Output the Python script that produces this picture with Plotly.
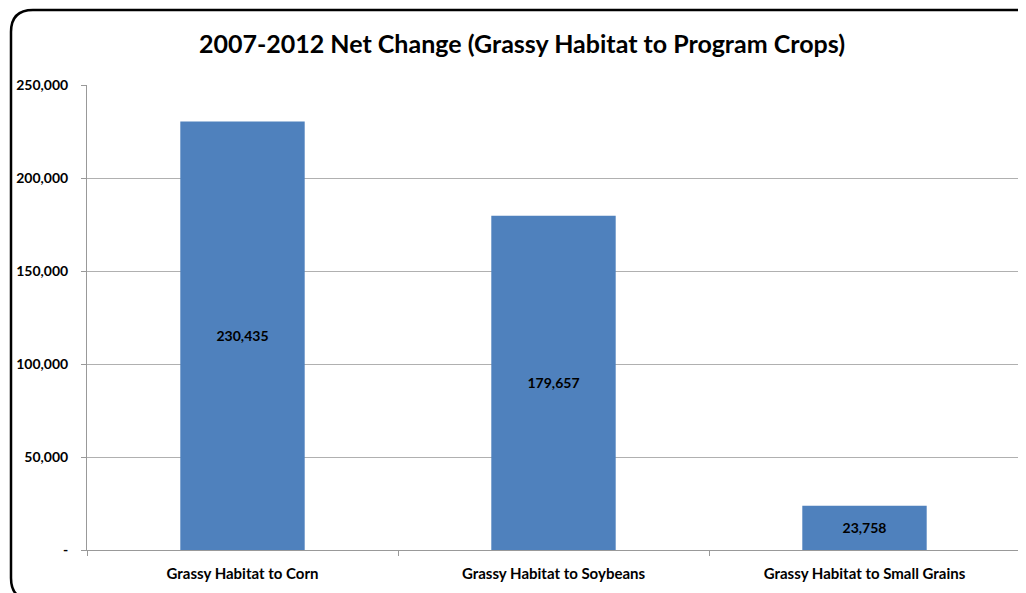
import plotly.graph_objects as go

categories = ["Grassy Habitat to Corn", "Grassy Habitat to Soybeans", "Grassy Habitat to Small Grains"]
values = [230435, 179657, 23758]
tick_vals = [0, 50000, 100000, 150000, 200000, 250000]
tick_text = ["-", "50,000", "100,000", "150,000", "200,000", "250,000"]
title_text = "2007-2012 Net Change (Grassy Habitat to Program Crops)"

FONT = "Lato, sans-serif"

fig = go.Figure(go.Bar(
    x=categories, y=values, width=0.4,
    marker=dict(color="#4F81BD", line=dict(width=0)),
    text=[f"{v:,}" for v in values], textposition="inside",
    insidetextanchor="middle",
    textfont=dict(family=FONT, size=14, color="black", weight="bold"),
))

OFF = 8  # page body margin
W, H = 1026, 593
# target positions in the screenshot
PL, PR, PT, PB = 87, 1020, 85, 550
L, T = PL - OFF, PT - OFF
R = W - (PR - OFF)
B = H - (PB - OFF)
pw, ph = W - L - R, H - T - B

def px(x):
    return (x - OFF - L) / pw

def py(y):
    return 1 - (y - OFF - T) / ph

x0, x1, y0, y1, r = 11, 1045, 10, 600, 22
path = (f"M {px(x0)},{py(y0 + r)} Q {px(x0)},{py(y0)} {px(x0 + r)},{py(y0)} "
        f"L {px(x1)},{py(y0)} "
        f"M {px(x0)},{py(y0 + r)} L {px(x0)},{py(y1 - r)} "
        f"Q {px(x0)},{py(y1)} {px(x0 + r)},{py(y1)} L {px(x1)},{py(y1)}")

fig.update_layout(
    width=W, height=H,
    margin=dict(l=L, r=R, t=T, b=B, autoexpand=False),
    paper_bgcolor="white", plot_bgcolor="white",
    showlegend=False,
    title=dict(text=title_text, x=(522 - OFF) / W, xref="container",
               y=1 - (44 - OFF) / H, yref="container",
               xanchor="center", yanchor="middle",
               font=dict(family=FONT, size=25, color="black", weight="bold")),
    xaxis=dict(tickson="boundaries", ticks="outside", ticklen=5, tickcolor="#999999",
               showline=True, linecolor="#999999", linewidth=1, showgrid=False,
               ticklabelstandoff=10, automargin=False,
               tickfont=dict(family=FONT, size=15, color="black", weight="bold"),
               range=[-0.5, 2.5]),
    yaxis=dict(range=[0, 250000], tickvals=tick_vals, ticktext=tick_text,
               ticks="outside", ticklen=5, tickcolor="#999999",
               showline=True, linecolor="#999999", linewidth=1,
               ticklabelstandoff=10, automargin=False,
               showgrid=True, gridcolor="#B0B0B0", gridwidth=1, zeroline=False,
               tickfont=dict(family=FONT, size=14, color="black", weight="bold")),
    shapes=[dict(type="path", xref="paper", yref="paper", path=path,
                 line=dict(color="black", width=2.5), layer="above")],
    bargap=0.6,
)

fig.write_html("out.html")
